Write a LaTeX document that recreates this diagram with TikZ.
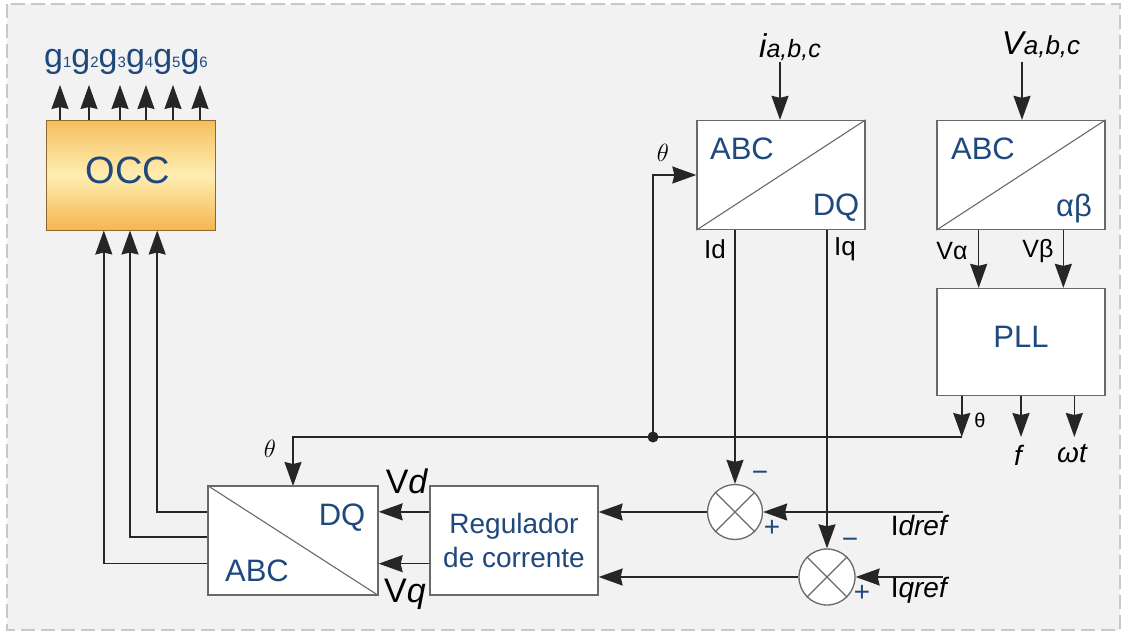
\documentclass[tikz,border=0pt]{standalone}
\usepackage{fontspec}
\setmainfont{Liberation Sans}
\usetikzlibrary{arrows.meta,calc,positioning}
\definecolor{txtblue}{RGB}{31,73,125}
\definecolor{boxgray}{RGB}{105,105,105}
\definecolor{bgpanel}{RGB}{242,242,242}
\definecolor{bgdash}{RGB}{200,200,200}
\definecolor{occtop}{RGB}{246,190,92}
\definecolor{occmid}{RGB}{254,238,178}
\definecolor{occbot}{RGB}{245,182,80}
\definecolor{occframe}{RGB}{140,105,45}
\newcommand{\fsz}[1]{\fontsize{#1}{#1}\selectfont}
\newcommand{\gsig}[1]{g{\fsz{15}#1}}

\begin{document}
\begin{tikzpicture}[x=1pt,y=-1pt,
  blk/.style={draw=boxgray,line width=1.3pt,fill=white,minimum width=168pt,minimum height=109pt,inner sep=0pt},
  sumnode/.style={circle,draw=boxgray,line width=1.3pt,fill=white,minimum size=55pt,inner sep=0pt},
  boxline/.style={draw=boxgray,line width=1.1pt},
  lbl/.style={text=txtblue,inner sep=0pt},
  tag/.style={text=black,inner sep=0pt},
  sig/.style={-{Stealth[length=24pt,width=17pt,inset=2pt]},line width=1.6pt,black!85},
]
\useasboundingbox (0,0) rectangle (1123,634);
\fill[white] (0,0) rectangle (1123,634);
\draw[fill=bgpanel,draw=bgdash,line width=1.5pt,dash pattern=on 14pt off 6pt] (7,4) rectangle (1120,630);

% ---- OCC block and gate signals ----
\node[blk,minimum width=169pt,minimum height=110pt,draw=occframe,line width=1pt,
      top color=occtop,bottom color=occbot,middle color=occmid] (occ) at (130.5,175) {};
\node[lbl,font=\fsz{38}] at (128,170) {OCC};
\node[lbl,anchor=base,font=\fsz{34}] (gates) at (126,67)
  {\gsig{1}\gsig{2}\gsig{3}\gsig{4}\gsig{5}\gsig{6}};
\foreach \k/\gx in {1/60,2/89,3/120,4/146,5/173,6/200}{
  \coordinate (gt\k) at (\gx,85);
  \draw[sig] (occ.north -| gt\k) -- (gt\k);
}

% ---- ABC/DQ (current) ----
\node[blk] (tdq) at (781,175) {};
\draw[boxline] (tdq.south west) -- (tdq.north east);
\node[lbl,font=\fsz{31}] at (742,149) {ABC};
\node[lbl,font=\fsz{31}] at (836,208) {DQ};
\coordinate (iin) at (780,62);
\draw[sig] (iin) -- (iin |- tdq.north);
\node[tag,anchor=base,font=\fsz{33}\itshape] at (790,57) {i{\fsz{25}a,b,c}};

% ---- ABC/alpha-beta (voltage) ----
\node[blk] (tab) at (1021,175) {};
\draw[boxline] (tab.south west) -- (tab.north east);
\node[lbl,font=\fsz{31}] at (983,149) {ABC};
\node[lbl,font=\fsz{31}] at (1074,208) {αβ};
\coordinate (vin) at (1022,62);
\draw[sig] (vin) -- (vin |- tab.north);
\node[tag,anchor=base,font=\fsz{33}\itshape] at (1041,55) {V{\fsz{26}a,b,c}};

% ---- PLL ----
\node[blk,minimum height=107pt] (pll) at (1021,342) {};
\node[lbl,font=\fsz{31}] at (1021,337) {PLL};
\coordinate (va) at ($(tab.south west)!0.25!(tab.south east)$);
\coordinate (vb) at ($(tab.south west)!0.75!(tab.south east)$);
\draw[sig] (va) -- (va |- pll.north);
\draw[sig] (vb) -- (vb |- pll.north);
\node[tag,font=\fsz{25}] at (952,251) {Vα};
\node[tag,font=\fsz{25}] at (1038,251) {Vβ};

% ---- theta bus ----
\coordinate (jn) at (653,437);
\coordinate (pth) at ($(pll.south west)!0.15!(pll.south east)$);
\coordinate (pw) at ($(pll.south west)!0.815!(pll.south east)$);
\coordinate (thb) at (pth |- jn);
\draw[sig] (pth) -- (thb);
\draw[sig] (pll.south) -- (pll.south |- jn);
\draw[sig] (pw) -- (pw |- jn);
\node[tag,font=\fsz{20}] at (980,420) {θ};
\node[tag,font=\fsz{28}\itshape] at (1018,455) {f};
\node[tag,font=\fsz{28}\itshape] at (1072,454) {ωt};
\draw[sig] (thb) -| (293,486);
\draw[sig] (jn) |- (tdq.west);
\fill[black!85] (jn) circle (5.5pt);
\node[tag,font=\fsz{28}] at (663,153) {$\theta$};
\node[tag,font=\fsz{28}] at (270,449) {$\theta$};

% ---- summing junctions ----
\node[sumnode] (sd) at (735,512) {};
\node[sumnode,minimum size=56pt] (sq) at (827,577) {};
\foreach \s in {sd,sq}{
  \draw[boxline] (\s.north west) -- (\s.south east);
  \draw[boxline] (\s.north east) -- (\s.south west);
}
\draw[sig] (tdq.south -| sd) -- (sd.north);
\draw[sig] (tdq.south -| sq) -- (sq.north);
\node[tag,font=\fsz{26}] at (715,249) {Id};
\node[tag,font=\fsz{26}] at (845,249) {Iq};
\coordinate (idr) at (943,512);
\coordinate (iqr) at (943,577);
\draw[sig] (idr) -- (sd.east);
\draw[sig] (iqr) -- (sq.east);
\node[tag,anchor=base,font=\fsz{28}] at (920,535) {I\textit{dref}};
\node[tag,anchor=base,font=\fsz{28}] at (920,597) {I\textit{qref}};
\node[lbl,font=\fsz{28}] at (760,476) {−};
\node[lbl,font=\fsz{28}] at (772,528) {+};
\node[lbl,font=\fsz{28}] at (850,543) {−};
\node[lbl,font=\fsz{28}] at (862,593) {+};

% ---- current regulator and DQ/ABC ----
\node[blk] (reg) at (514,540.5) {};
\node[lbl,align=center,font=\fontsize{28}{34}\selectfont] at (514,540) {Regulador\\de corrente};
\draw[sig] (sd.west) -- (sd.west -| reg.east);
\draw[sig] (sq.west) -- (sq.west -| reg.east);
\node[blk,minimum width=170pt] (idq) at (293,540.5) {};
\draw[boxline] (idq.north west) -- (idq.south east);
\node[lbl,font=\fsz{31}] at (342,518) {DQ};
\node[lbl,font=\fsz{31}] at (257,571) {ABC};
\coordinate (rd) at ($(reg.north west)!0.24!(reg.south west)$);
\coordinate (rq) at ($(reg.north west)!0.71!(reg.south west)$);
\draw[sig] (rd) -- (rd -| idq.east);
\draw[sig] (rq) -- (rq -| idq.east);
\node[tag,anchor=base,font=\fsz{34}] at (407,493) {V\textit{d}};
\node[tag,anchor=base,font=\fsz{34}] at (405,602) {V\textit{q}};
\foreach \f/\o in {0.24/0.657,0.47/0.497,0.71/0.343}{
  \draw[sig] ($(idq.north west)!\f!(idq.south west)$) -| ($(occ.south west)!\o!(occ.south east)$);
}
\end{tikzpicture}
\end{document}
